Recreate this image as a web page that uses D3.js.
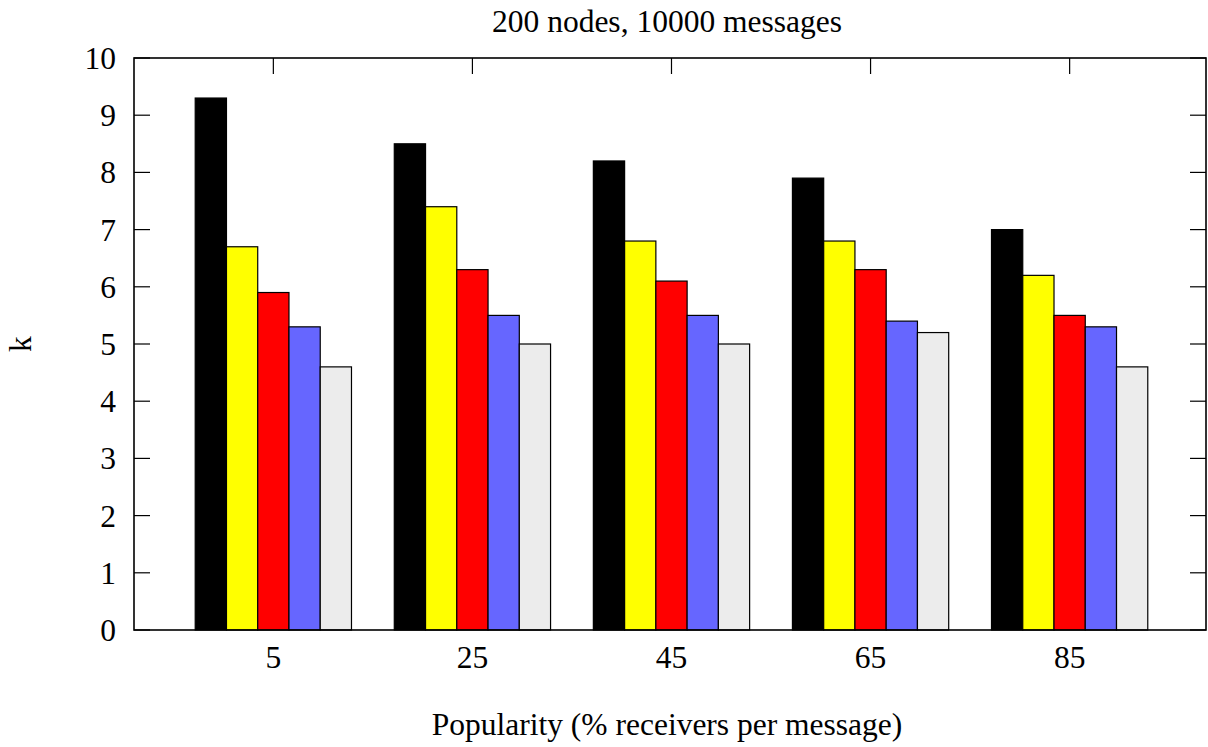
<!DOCTYPE html>
<html>
<head>
<meta charset="utf-8">
<script src="https://cdn.jsdelivr.net/npm/d3@7"></script>
<style>
  html, body { margin: 0; padding: 0; background: #fff; }
  svg text { font-family: "Liberation Serif", "Times New Roman", serif; fill: #000; }
</style>
</head>
<body>
<svg id="chart" width="1208" height="747"></svg>
<script>
const categories = ["5", "25", "45", "65", "85"];
const seriesColors = ["#000000", "#ffff00", "#ff0000", "#6666ff", "#ececec"];
const series1 = [9.3, 8.5, 8.2, 7.9, 7.0];
const series2 = [6.7, 7.4, 6.8, 6.8, 6.2];
const series3 = [5.9, 6.3, 6.1, 6.3, 5.5];
const series4 = [5.3, 5.5, 5.5, 5.4, 5.3];
const series5 = [4.6, 5.0, 5.0, 5.2, 4.6];
const yTicks = [0, 1, 2, 3, 4, 5, 6, 7, 8, 9, 10];
const titleText = "200 nodes, 10000 messages";
const xLabel = "Popularity (% receivers per message)";
const yLabel = "k";

const allSeries = [series1, series2, series3, series4, series5];

const svg = d3.select("#chart");
const pL = 134, pR = 1206, pT = 58, pB = 630;
const fs = 31.5;

const x = d3.scaleLinear().domain([-0.7, 4.685]).range([pL, pR]);
const y = d3.scaleLinear().domain([0, 10]).range([pB, pT]);

const barW = 0.157; // in category units
const nS = allSeries.length;

// bars
allSeries.forEach((s, si) => {
  svg.append("g").selectAll("rect").data(s).join("rect")
    .attr("x", (d, i) => x(i - nS * barW / 2 + si * barW))
    .attr("width", x(barW) - x(0))
    .attr("y", d => y(d))
    .attr("height", d => y(0) - y(d))
    .attr("fill", seriesColors[si])
    .attr("stroke", "#000")
    .attr("stroke-width", 1.2);
});

// frame
const frame = svg.append("g");
frame.append("rect")
  .attr("x", pL).attr("y", pT)
  .attr("width", pR - pL).attr("height", pB - pT)
  .attr("fill", "none").attr("stroke", "#000").attr("stroke-width", 1.6);

// y ticks (left & right, inward)
const tickLen = 16;
yTicks.forEach(t => {
  frame.append("line").attr("x1", pL).attr("x2", pL + tickLen)
    .attr("y1", y(t)).attr("y2", y(t)).attr("stroke", "#000").attr("stroke-width", 1.2);
  frame.append("line").attr("x1", pR).attr("x2", pR - tickLen)
    .attr("y1", y(t)).attr("y2", y(t)).attr("stroke", "#000").attr("stroke-width", 1.2);
  svg.append("text").attr("x", pL - 18).attr("y", y(t)).attr("dy", "0.35em")
    .attr("text-anchor", "end").attr("font-size", fs).text(t);
});

// x ticks top (inward) and labels
categories.forEach((c, i) => {
  frame.append("line").attr("x1", x(i)).attr("x2", x(i))
    .attr("y1", pT).attr("y2", pT + tickLen).attr("stroke", "#000").attr("stroke-width", 1.2);
  svg.append("text").attr("x", x(i)).attr("y", 668)
    .attr("text-anchor", "middle").attr("font-size", fs).text(c);
});

// title & axis labels
svg.append("text").attr("x", 667).attr("y", 32)
  .attr("text-anchor", "middle").attr("font-size", fs).text(titleText);
svg.append("text").attr("x", 667).attr("y", 735)
  .attr("text-anchor", "middle").attr("font-size", fs).text(xLabel);
svg.append("text").attr("transform", `translate(31,${(pT + pB) / 2}) rotate(-90)`)
  .attr("text-anchor", "middle").attr("font-size", fs).text(yLabel);
</script>
</body>
</html>
